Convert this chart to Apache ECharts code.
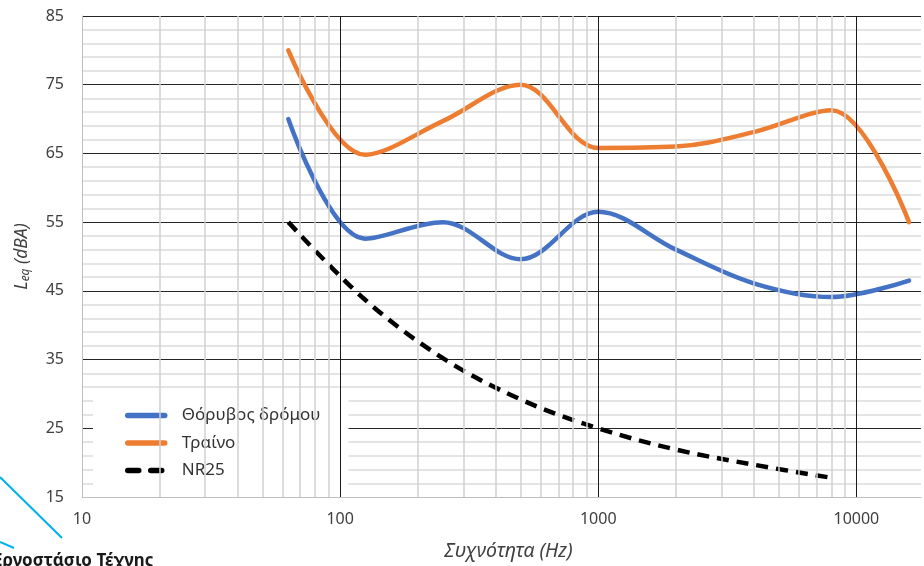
<!DOCTYPE html>
<html>
<head>
<meta charset="utf-8">
<script src="https://cdn.jsdelivr.net/npm/echarts@6/dist/echarts.min.js"></script>
<style>
  html, body { margin: 0; padding: 0; background: #fff; }
  #chart { width: 924px; height: 566px; }
</style>
</head>
<body>
<div id="chart"></div>
<script>
// Octave band centre frequencies (Hz)
const freqs = [63, 125, 250, 500, 1000, 2000, 4000, 8000, 16000];
// Road traffic noise level per band (dBA)
const roadNoise = [70, 52.6, 55, 49.6, 56.5, 51, 46.1, 44.1, 46.5];
// Train noise level per band (dBA)
const train = [80, 64.8, 69.7, 75, 65.8, 66, 68.1, 71.3, 55];
// NR25 criterion curve (63 Hz – 8 kHz)
const nrFreqs = [63, 125, 250, 500, 1000, 2000, 4000, 8000];
const nr25 = [55, 43.7, 35.2, 29.2, 25, 21.9, 19.7, 17.8];
// Labelled decades on the frequency axis
const xTicks = [10, 100, 1000, 10000];
// Decade lines inside the plot
const majorFreqs = [100, 1000, 10000];
// Intermediate log-grid frequencies
const minorFreqs = [20, 30, 40, 50, 60, 70, 80, 90,
                    200, 300, 400, 500, 600, 700, 800, 900,
                    2000, 3000, 4000, 5000, 6000, 7000, 8000, 9000];
// Frequency axis range (Hz)
const xMin = 10, xMax = 17800;
// Level axis range and step
const yMin = 15, yMax = 85, yStep = 10;

const seriesNames = ['Θόρυβος δρόμου', 'Τραίνο', 'NR25'];
const FONT = 'Noto Sans';
const TXT = '#404040';
const SMOOTH = 0.35;

const pairs = (xs, ys) => xs.map((x, i) => [x, ys[i]]);

const chart = echarts.init(document.getElementById('chart'), null, { renderer: 'canvas' });

chart.setOption({
  animation: false,
  backgroundColor: '#fff',
  textStyle: { fontFamily: FONT },
  grid: { left: 82, top: 16, right: 0, height: 484, containLabel: false },
  xAxis: {
    type: 'log',
    logBase: 10,
    min: xMin,
    max: xMax,
    name: 'Συχνότητα (Hz)',
    nameLocation: 'middle',
    nameGap: 44,
    nameTextStyle: { fontFamily: FONT, fontStyle: 'italic', fontSize: 19.5, color: TXT, padding: [0, 0, 0, 14] },
    axisLine: { show: true, lineStyle: { color: '#bfbfbf', width: 1 } },
    axisTick: { show: false },
    axisLabel: {
      fontFamily: FONT, fontSize: 16, color: TXT, margin: 14,
      formatter: v => (xTicks.indexOf(Math.round(v)) >= 0 ? String(Math.round(v)) : '')
    },
    splitLine: { show: false }
  },
  yAxis: {
    type: 'value',
    min: yMin,
    max: yMax,
    interval: yStep,
    name: '{i|L}{s|eq}{i| (dBA)}',
    nameLocation: 'middle',
    nameRotate: 90,
    nameGap: 50,
    nameTextStyle: {
      rich: {
        i: { fontFamily: FONT, fontStyle: 'italic', fontSize: 17.5, color: TXT },
        s: { fontFamily: FONT, fontStyle: 'italic', fontSize: 12, color: TXT, padding: [8, 0, 0, 0] }
      }
    },
    axisLine: { show: true, lineStyle: { color: '#bfbfbf', width: 1 } },
    axisTick: { show: false },
    axisLabel: { fontFamily: FONT, fontSize: 16, color: TXT, margin: 18 },
    splitLine: { show: true, lineStyle: { color: '#262626', width: 1 } },
    minorTick: { show: false, splitNumber: 5 },
    minorSplitLine: { show: true, lineStyle: { color: '#dcdcdc', width: 1.5 } }
  },
  legend: {
    data: [
      { name: seriesNames[0] },
      { name: seriesNames[1] },
      { name: seriesNames[2], lineStyle: { type: [11, 12], width: 5.5, cap: 'round' } }
    ],
    orient: 'vertical',
    left: 93,
    top: 400,
    backgroundColor: '#ffffff',
    padding: [7, 28, 8, 32],
    itemWidth: 37,
    itemHeight: 14,
    itemGap: 10.5,
    itemStyle: { opacity: 0 },
    lineStyle: { width: 5.5, cap: 'round' },
    textStyle: { fontFamily: FONT, fontSize: 17, color: '#333333', padding: [0, 0, 0, 12] }
  },
  series: [
    {
      // light log-scale grid between the decades
      name: 'minor-grid',
      type: 'line',
      data: [],
      z: 1,
      silent: true,
      markLine: {
        silent: true,
        symbol: ['none', 'none'],
        label: { show: false },
        lineStyle: { color: '#d0d0d0', type: 'solid', width: 1.5 },
        emphasis: { disabled: true },
        data: minorFreqs.map(f => ({ xAxis: f }))
      }
    },
    {
      // dark decade lines
      name: 'major-grid',
      type: 'line',
      data: [],
      z: 1,
      silent: true,
      markLine: {
        silent: true,
        symbol: ['none', 'none'],
        label: { show: false },
        lineStyle: { color: '#1a1a1a', type: 'solid', width: 1 },
        emphasis: { disabled: true },
        data: majorFreqs.map(f => ({ xAxis: f }))
      }
    },
    {
      name: seriesNames[0],
      type: 'line',
      smooth: SMOOTH,
      showSymbol: false,
      symbol: 'none',
      z: 3,
      color: '#4472c4',
      lineStyle: { color: '#4472c4', width: 4.5, cap: 'round' },
      data: pairs(freqs, roadNoise)
    },
    {
      name: seriesNames[1],
      type: 'line',
      smooth: SMOOTH,
      showSymbol: false,
      symbol: 'none',
      z: 3,
      color: '#ed7d31',
      lineStyle: { color: '#ed7d31', width: 4.5, cap: 'round' },
      data: pairs(freqs, train)
    },
    {
      name: seriesNames[2],
      type: 'line',
      smooth: SMOOTH,
      showSymbol: false,
      symbol: 'none',
      z: 3,
      color: '#000000',
      lineStyle: { color: '#000000', width: 4.5, type: [12, 8] },
      data: pairs(nrFreqs, nr25)
    }
  ],
  graphic: [
    {
      type: 'line', silent: true, z: 10,
      shape: { x1: 0, y1: 477, x2: 62, y2: 538 },
      style: { stroke: '#00b0f0', lineWidth: 2 }
    },
    {
      type: 'line', silent: true, z: 10,
      shape: { x1: 0, y1: 542, x2: 14, y2: 548 },
      style: { stroke: '#00b0f0', lineWidth: 2 }
    },
    {
      type: 'text', silent: true, z: 10,
      left: -7, top: 553,
      style: { text: 'Εργοστάσιο Τέχνης', font: 'bold 17px "Noto Sans"', fill: '#1a1a1a' }
    }
  ]
});
</script>
</body>
</html>
